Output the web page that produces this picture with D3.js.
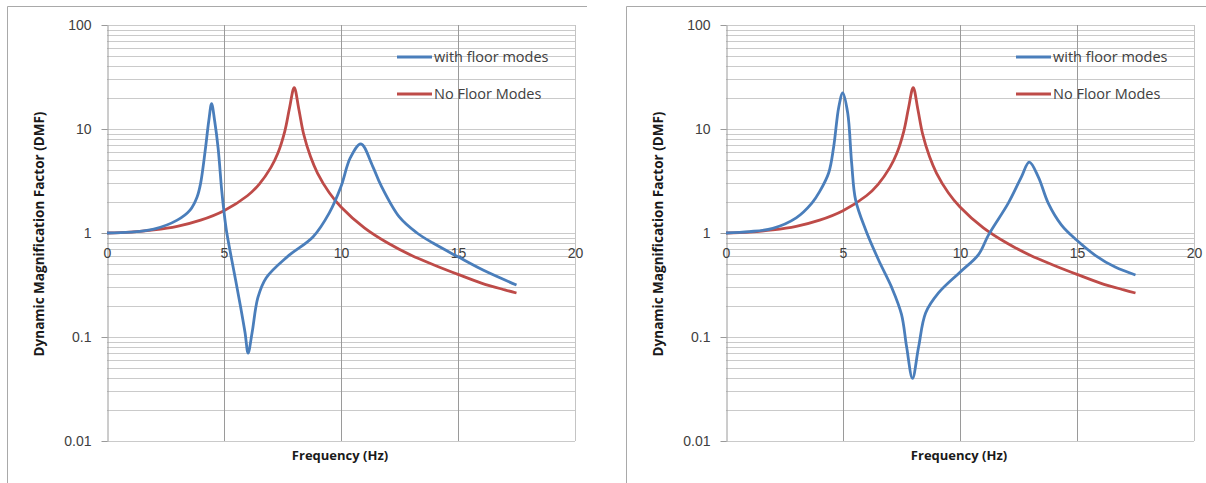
<!DOCTYPE html>
<html>
<head>
<meta charset="utf-8">
<script src="https://cdn.jsdelivr.net/npm/d3@7"></script>
<style>
  html, body { margin: 0; padding: 0; background: #fff; }
  svg { display: block; font-family: "Open Sans", sans-serif; }
</style>
</head>
<body>
<div id="chart"></div>
<script>
// Axis ticks
const xTicks = [0, 5, 10, 15, 20];
const xTickLabels = ['0', '5', '10', '15', '20'];
const yTicks = [0.01, 0.1, 1, 10, 100];
const yTickLabels = ['0.01', '0.1', '1', '10', '100'];
const seriesNames = ['with floor modes', 'No Floor Modes'];

// No floor modes (same curve in both charts)
const noFloorHz = [0, 1, 2, 3, 4, 5, 6, 6.5, 7, 7.3, 7.6, 7.8, 8, 8.2, 8.4, 8.7, 9, 9.5, 10, 11, 12, 13, 14, 15, 16, 17, 17.5];
const noFloorDmf = [1, 1.02, 1.07, 1.16, 1.33, 1.64, 2.28, 2.94, 4.25, 5.84, 9.56, 15.9, 25, 15.4, 9.0, 5.4, 3.75, 2.44, 1.78, 1.12, 0.8, 0.61, 0.49, 0.40, 0.33, 0.284, 0.265];

// With floor modes, left chart
const leftFloorHz = [0, 1, 2, 3, 3.55, 3.85, 4.0, 4.2, 4.35, 4.47, 4.6, 4.75, 4.9, 5.0, 5.1, 5.3, 5.5, 5.7, 5.9, 6.03, 6.2, 6.45, 6.8, 7.7, 8.8, 9.5, 10.0, 10.4, 10.85, 11.35, 11.7, 12.5, 13.25, 13.93, 15, 16.07, 17.5];
const leftFloorDmf = [1, 1.02, 1.09, 1.33, 1.66, 2.22, 3.0, 6.3, 12, 17.5, 12, 6.5, 2.6, 1.6, 1.07, 0.6, 0.35, 0.2, 0.11, 0.07, 0.11, 0.24, 0.37, 0.59, 0.915, 1.56, 2.8, 5.3, 7.2, 4.4, 2.9, 1.42, 1.0, 0.8, 0.59, 0.44, 0.316];

// With floor modes, right chart
const rightFloorHz = [0, 1, 2, 3, 3.67, 4.0, 4.39, 4.6, 4.82, 4.99, 5.2, 5.37, 5.54, 5.97, 6.52, 7.08, 7.5, 7.72, 7.97, 8.23, 8.53, 9.08, 10, 10.79, 11.22, 12.07, 12.62, 12.96, 13.35, 13.77, 14.33, 14.97, 15.78, 16.63, 17.5];
const rightFloorDmf = [1, 1.03, 1.11, 1.4, 1.94, 2.5, 3.8, 6.7, 16.3, 22.2, 14.3, 4.7, 2.07, 1.07, 0.55, 0.30, 0.165, 0.08, 0.040, 0.08, 0.17, 0.265, 0.42, 0.62, 0.96, 1.95, 3.45, 4.8, 3.45, 1.94, 1.2, 0.86, 0.61, 0.47, 0.395];

const W = 1206, H = 483;
const blue = '#4a7ebb', red = '#be4b48';

const svg = d3.select('#chart').append('svg')
  .attr('width', W)
  .attr('height', H);

function drawChart(offsetX, floorHz, floorDmf, borderRight) {
  const g = svg.append('g').attr('transform', `translate(${offsetX},0)`);
  const left = 107, right = 575, top = 25, bottom = 441;

  // outer chart border (cropped on the right/bottom)
  g.append('path')
    .attr('d', `M${borderRight},6.5H7.5V${H}`)
    .attr('fill', 'none')
    .attr('stroke', '#a9a9a9')
    .attr('stroke-width', 1);

  const x = d3.scaleLinear().domain([0, 20]).range([left, right]);
  const y = d3.scaleLog().domain([0.01, 100]).range([bottom, top]);

  // minor horizontal grid
  const minor = [];
  [0.01, 0.1, 1, 10].forEach(d => {
    for (let k = 1; k <= 10; k++) minor.push(d * k);
  });
  g.append('g').selectAll('line')
    .data(minor)
    .join('line')
    .attr('x1', left).attr('x2', right)
    .attr('y1', d => Math.round(y(d)) + 0.5)
    .attr('y2', d => Math.round(y(d)) + 0.5)
    .attr('stroke', '#cacaca');

  // vertical grid
  g.append('g').selectAll('line')
    .data(xTicks.slice(1))
    .join('line')
    .attr('x1', d => Math.round(x(d)) + 0.5)
    .attr('x2', d => Math.round(x(d)) + 0.5)
    .attr('y1', top).attr('y2', bottom)
    .attr('stroke', d => d === 20 ? '#c4c4c4' : '#9a9a9a');

  // y axis
  const yAxis = g.append('g')
    .attr('transform', `translate(${left + 0.5},0)`)
    .call(d3.axisLeft(y)
      .tickValues(yTicks)
      .tickFormat((d, i) => yTickLabels[i])
      .tickSizeInner(6)
      .tickSizeOuter(0)
      .tickPadding(10));
  yAxis.select('.domain').attr('stroke', '#9a9a9a');
  yAxis.selectAll('.tick line').attr('stroke', '#9a9a9a');
  yAxis.selectAll('text')
    .attr('fill', '#404040')
    .style('font-size', '14px');

  // x axis crosses at DMF = 1
  const xAxis = g.append('g')
    .attr('transform', `translate(0,${y(1)})`)
    .call(d3.axisBottom(x)
      .tickValues(xTicks)
      .tickFormat((d, i) => xTickLabels[i])
      .tickSize(0)
      .tickPadding(15));
  xAxis.select('.domain').remove();
  xAxis.selectAll('text')
    .attr('fill', '#404040')
    .style('font-size', '14px');

  // axis titles
  g.append('text')
    .attr('x', 340)
    .attr('y', 460)
    .attr('text-anchor', 'middle')
    .attr('fill', '#1a1a1a')
    .style('font-size', '13px')
    .style('font-weight', 'bold')
    .text('Frequency (Hz)');

  g.append('text')
    .attr('transform', `translate(44,234) rotate(-90)`)
    .attr('text-anchor', 'middle')
    .attr('fill', '#1a1a1a')
    .style('font-size', '13.5px')
    .style('font-weight', 'bold')
    .text('Dynamic Magnification Factor (DMF)');

  // series
  const line = d3.line()
    .x(d => x(d[0]))
    .y(d => y(d[1]))
    .curve(d3.curveCatmullRom.alpha(0.5));

  const series = [
    { name: seriesNames[0], color: blue, pts: floorHz.map((f, i) => [f, floorDmf[i]]) },
    { name: seriesNames[1], color: red, pts: noFloorHz.map((f, i) => [f, noFloorDmf[i]]) }
  ];

  g.append('path')
    .datum(series[1].pts)
    .attr('d', line)
    .attr('fill', 'none')
    .attr('stroke', red)
    .attr('stroke-width', 2.8)
    .attr('stroke-linejoin', 'round');

  g.append('path')
    .datum(series[0].pts)
    .attr('d', line)
    .attr('fill', 'none')
    .attr('stroke', blue)
    .attr('stroke-width', 2.8)
    .attr('stroke-linejoin', 'round');

  // legend
  const legend = g.append('g').attr('transform', 'translate(397,57)');
  series.forEach((s, i) => {
    const item = legend.append('g').attr('transform', `translate(0,${i * 37})`);
    item.append('line')
      .attr('x1', 0).attr('x2', 35)
      .attr('stroke', s.color)
      .attr('stroke-width', 2.8);
    item.append('text')
      .attr('x', 37)
      .attr('y', 5)
      .attr('fill', '#404040')
      .style('font-size', '14.5px')
      .text(s.name);
  });
}

drawChart(0, leftFloorHz, leftFloorDmf, 587);
drawChart(619, rightFloorHz, rightFloorDmf, 700);
</script>
</body>
</html>
